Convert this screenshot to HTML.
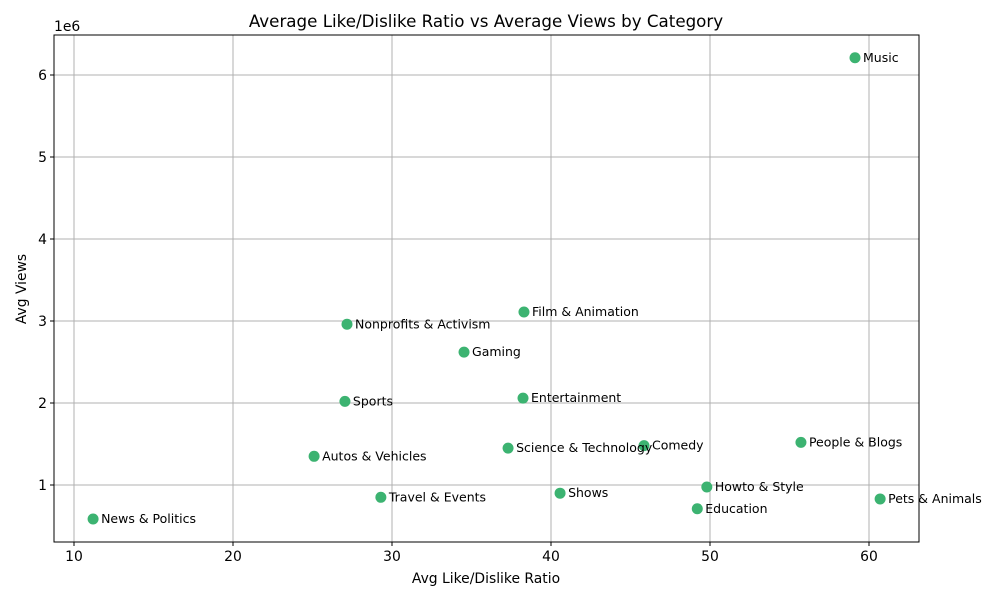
<!DOCTYPE html>
<html><head><meta charset="utf-8"><style>
body{margin:0;background:#fff;font-family:"Liberation Sans","DejaVu Sans",sans-serif}
svg text{font-family:"DejaVu Sans","Liberation Sans",sans-serif}
</style></head><body>
<svg id="chart" width="1000" height="600" xmlns="http://www.w3.org/2000/svg"></svg>
<script>
const categories=["Music","Film & Animation","Nonprofits & Activism","Gaming","Sports","Entertainment","Comedy","People & Blogs","Science & Technology","Autos & Vehicles","Howto & Style","Shows","Travel & Events","Pets & Animals","Education","News & Politics"];
const ratios=[59.12,38.3,27.17,34.53,27.04,38.24,45.85,55.72,37.3,25.1,49.8,40.57,29.3,60.7,49.2,11.2];
const views=[6.21,3.11,2.96,2.62,2.02,2.06,1.48,1.52,1.45,1.35,0.976,0.90,0.85,0.83,0.71,0.585];
const xTicks=[10,20,30,40,50,60];
const yTicks=[1,2,3,4,5,6];
const L=54,R=919,T=35,B=542;
const xs=v=>74+(v-10)*15.9;
const ys=v=>485-(v-1)*82;
const NS="http://www.w3.org/2000/svg";
const svg=document.getElementById('chart');
function mk(tag,attrs,parent){const e=document.createElementNS(NS,tag);for(const k in attrs)e.setAttribute(k,attrs[k]);(parent||svg).appendChild(e);return e;}
const grid=mk('g',{});


xTicks.forEach(t=>{
  mk('line',{x1:xs(t),x2:xs(t),y1:T,y2:B,stroke:'#b0b0b0','stroke-width':1},grid);
  mk('line',{x1:xs(t),x2:xs(t),y1:B,y2:B+4,stroke:'#000','stroke-width':1});
  const tx=mk('text',{x:xs(t),y:B+19,'text-anchor':'middle','font-size':13.9});
  tx.textContent=t;
  
  
});
yTicks.forEach(t=>{
  mk('line',{x1:L,x2:R,y1:ys(t),y2:ys(t),stroke:'#b0b0b0','stroke-width':1},grid);
  mk('line',{x1:L-4,x2:L,y1:ys(t),y2:ys(t),stroke:'#000','stroke-width':1});
  const tx=mk('text',{x:L-7,y:ys(t)+5,'text-anchor':'end','font-size':13.9});
  tx.textContent=t;
  
  
});
const frame=mk('rect',{x:L,y:T,width:R-L,height:B-T,fill:'none',stroke:'#000','stroke-width':1});


categories.forEach((c,i)=>{
  const p=mk('circle',{cx:xs(ratios[i]),cy:ys(views[i]),r:5.5,fill:'#3cb371'});
  
  
  const l=mk('text',{x:xs(ratios[i])+8,y:ys(views[i])+4,'font-size':12.5});
  l.textContent=c;
  
  
});
const t1=mk('text',{x:486,y:27,'text-anchor':'middle','font-size':16.7});
t1.textContent='Average Like/Dislike Ratio vs Average Views by Category';


const t2=mk('text',{x:486,y:583,'text-anchor':'middle','font-size':13.9});
t2.textContent='Avg Like/Dislike Ratio';


const t3=mk('text',{x:26,y:289,'text-anchor':'middle','font-size':13.9,transform:'rotate(-90 26 289)'});
t3.textContent='Avg Views';


const t4=mk('text',{x:54,y:31,'font-size':13.9});
t4.textContent='1e6';


</script>
</body></html>
